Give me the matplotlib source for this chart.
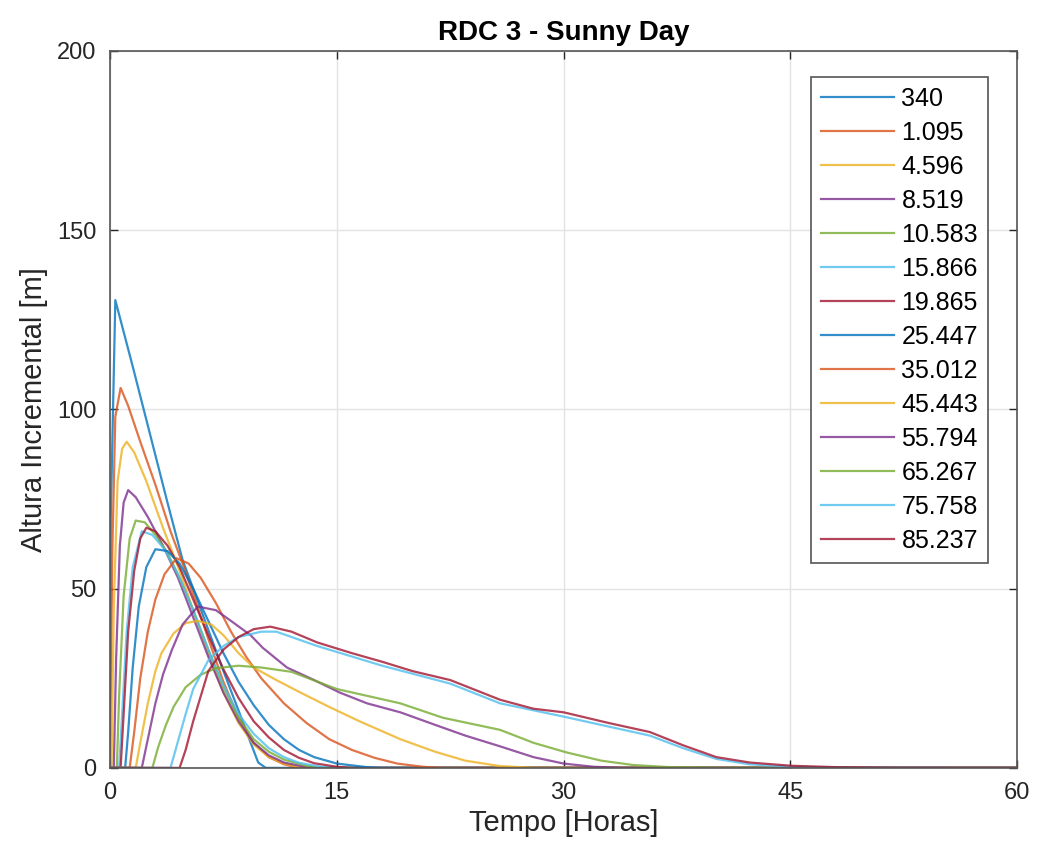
import matplotlib.pyplot as plt

plt.rcParams['font.family'] = ['Liberation Sans', 'DejaVu Sans']

# series labels (legend) and MATLAB default color order
labels = ['340', '1.095', '4.596', '8.519', '10.583', '15.866', '19.865',
          '25.447', '35.012', '45.443', '55.794', '65.267', '75.758', '85.237']
colors = ['#0072BD', '#D95319', '#EDB120', '#7E2F8E', '#77AC30', '#4DBEEE', '#A2142F']

# (tempo [h], altura [m]), one pair of lists per series
t_340 = [0, 0.05, 0.35, 1.5, 2.5, 3.8, 4.8, 5.5, 6.5, 7.5, 8.5, 9.3, 9.8, 10.3, 60]
h_340 = [0, 70, 130.5, 112, 95.5, 74, 58, 50, 38.5, 27, 16, 7, 1.5, 0, 0]

t_1095 = [0, 0.15, 0.35, 0.7, 1.2, 2, 3, 4, 4.8, 5.7, 6.5, 7.5, 8.5, 9.5, 10.5, 11.5, 12.5, 60]
h_1095 = [0, 60, 98, 106, 101, 91, 79, 66, 57, 46, 36, 24, 14, 7, 3, 1, 0, 0]

t_4596 = [0, 0.1, 0.25, 0.5, 0.8, 1.1, 1.6, 2.4, 3.5, 4.6, 5.5, 6.5, 7.5, 8.5, 9.5, 10.5, 11.5, 12.5, 13.5, 60]
h_4596 = [0, 0, 45, 80, 89, 91, 88, 80, 67, 55, 44, 32, 21, 12.5, 6.5, 3, 1.2, 0.3, 0, 0]

t_8519 = [0, 0.25, 0.4, 0.65, 0.9, 1.2, 1.7, 2.5, 3.5, 4.5, 5.5, 6.5, 7.5, 8.5, 9.5, 10.5, 11.5, 13, 14, 60]
h_8519 = [0, 0, 30, 62, 74, 77.5, 75.5, 70, 62, 53, 42, 31, 21, 13, 7, 3.5, 1.5, 0.2, 0, 0]

t_10583 = [0, 0.45, 0.6, 0.9, 1.3, 1.7, 2.3, 3.0, 3.8, 4.6, 5.5, 6.5, 7.5, 8.5, 9.5, 10.5, 11.5, 13, 14, 60]
h_10583 = [0, 0, 20, 48, 64, 69, 68.5, 65, 60, 53, 44, 33, 22.5, 14, 8, 4.5, 2.3, 0.6, 0, 0]

t_15866 = [0, 0.6, 0.8, 1.1, 1.5, 2.1, 2.8, 3.6, 4.5, 5.5, 6.5, 7.5, 8.5, 9.5, 10.5, 11.5, 12.5, 14, 15, 60]
h_15866 = [0, 0, 15, 38, 56, 66, 65, 61, 54, 44, 33, 23, 15, 9.5, 5.5, 3, 1.4, 0.3, 0, 0]

t_19865 = [0, 0.7, 0.9, 1.2, 1.6, 2.0, 2.4, 3.0, 3.8, 4.6, 5.5, 6.5, 7.5, 8.5, 9.5, 10.5, 11.5, 12.5, 13.5, 15, 16, 60]
h_19865 = [0, 0, 15, 38, 55, 64, 67, 66, 62, 56, 47, 37, 27.5, 19.5, 13, 8.5, 5, 2.8, 1.3, 0.3, 0, 0]

t_25447 = [0, 1.0, 1.2, 1.5, 1.9, 2.4, 3.0, 3.8, 4.6, 5.5, 6.5, 7.5, 8.5, 9.5, 10.5, 11.5, 12.5, 13.5, 15, 17, 18, 60]
h_25447 = [0, 0, 10, 28, 45, 56, 61, 60.5, 57, 50, 41, 32, 24, 17.5, 12, 8, 5, 3, 1.2, 0.2, 0, 0]

t_35012 = [0, 1.3, 1.6, 2, 2.5, 3, 3.6, 4.4, 5.2, 6, 7, 8, 9, 10, 11.5, 13, 14.5, 16, 17.5, 19, 20.7, 22, 60]
h_35012 = [0, 0, 10, 25, 38, 47, 54, 58.5, 57, 53, 46, 38, 31, 25, 18, 12.5, 8, 5, 2.8, 1.2, 0.3, 0, 0]

t_45443 = [0, 1.7, 2.0, 2.5, 3, 3.4, 4.2, 5, 5.8, 6.7, 7.5, 8.5, 9.5, 11, 12.6, 14.5, 16.5, 19.2, 21.5, 23.5, 25.8, 28, 60]
h_45443 = [0, 0, 7, 18, 27, 32, 37.5, 40.4, 41, 40, 37, 32, 28, 24.5, 21, 17, 13, 8, 4.5, 2, 0.5, 0, 0]

t_55794 = [0, 2.1, 2.5, 3, 3.5, 4.1, 4.8, 5.8, 7, 8, 9.3, 10.1, 11.7, 13.5, 15.2, 17, 19.2, 21.5, 23.5, 25.8, 28, 30, 32, 34, 60]
h_55794 = [0, 0, 8, 18, 26, 33, 40, 45, 44, 41, 37, 33.5, 28, 24.5, 21, 18, 15.5, 12, 9, 6, 3, 1.2, 0.3, 0, 0]

t_65267 = [0, 2.8, 3.2, 3.7, 4.2, 5, 6, 7, 8.5, 10, 12, 15, 19.2, 22, 25.8, 28, 30.2, 32.5, 34.6, 37, 40, 60]
h_65267 = [0, 0, 6, 12, 17, 22.5, 26, 27.8, 28.5, 28, 26.8, 22, 18, 14, 10.6, 7, 4.3, 2, 0.8, 0.2, 0, 0]

t_75758 = [0, 4.0, 4.4, 5, 5.5, 6.5, 7.5, 8.5, 10, 11, 13.7, 18, 22.5, 25.8, 30, 33, 35.7, 37.9, 40.1, 42.3, 45, 48, 60]
h_75758 = [0, 0, 6, 15, 22, 30, 34, 36.5, 38, 38, 34, 28.5, 23.5, 18, 14.3, 11.5, 9, 5.5, 2.5, 1, 0.3, 0.1, 0]

t_85237 = [0, 4.6, 5.0, 5.5, 6.0, 6.5, 7.5, 8.5, 9.5, 10.6, 12, 13.7, 16, 18, 20, 22.5, 25.8, 28, 30, 33, 35.7, 37.9, 40.1, 42.3, 45, 48, 52, 60]
h_85237 = [0, 0, 5, 13, 20, 27, 33, 36.5, 38.7, 39.4, 38, 35, 32, 29.6, 27, 24.5, 19, 16.5, 15.5, 12.5, 10, 6.3, 3, 1.5, 0.6, 0.2, 0.05, 0]

series_t = [t_340, t_1095, t_4596, t_8519, t_10583, t_15866, t_19865,
            t_25447, t_35012, t_45443, t_55794, t_65267, t_75758, t_85237]
series_h = [h_340, h_1095, h_4596, h_8519, h_10583, h_15866, h_19865,
            h_25447, h_35012, h_45443, h_55794, h_65267, h_75758, h_85237]

fig = plt.figure(figsize=(10.38, 8.57), dpi=100)
ax = fig.add_axes([0.106, 0.104, 0.874, 0.8365])

for i, (t, h) in enumerate(zip(series_t, series_h)):
    ax.plot(t, h, color=colors[i % len(colors)], lw=1.6, alpha=0.8, label=labels[i])

ax.set_xlim(0, 60)
ax.set_ylim(0, 200)
ax.set_xticks([0, 15, 30, 45, 60])
ax.set_yticks([0, 50, 100, 150, 200])
ax.grid(True, color='#e3e3e3', lw=1)
ax.set_axisbelow(True)
ax.tick_params(direction='in', top=True, right=True, length=6, width=1,
               labelsize=17, colors='#262626', pad=10)
for s in ax.spines.values():
    s.set_color('#555555')
    s.set_linewidth(1.2)

ax.set_xlabel('Tempo [Horas]', fontsize=21, color='#262626', labelpad=4)
ax.set_ylabel('Altura Incremental [m]', fontsize=21, color='#262626', labelpad=6)
ax.set_title('RDC 3 - Sunny Day', fontsize=20, fontweight='bold', pad=8)

leg = ax.legend(loc='upper right', bbox_to_anchor=(0.968, 0.964), borderaxespad=0,
                fontsize=18, handlelength=2.9, labelspacing=0.4, fancybox=False,
                framealpha=1, edgecolor='#555555', borderpad=0.4, handletextpad=0.3)
leg.get_frame().set_linewidth(1.2)

fig.savefig('out.png', dpi=100)
